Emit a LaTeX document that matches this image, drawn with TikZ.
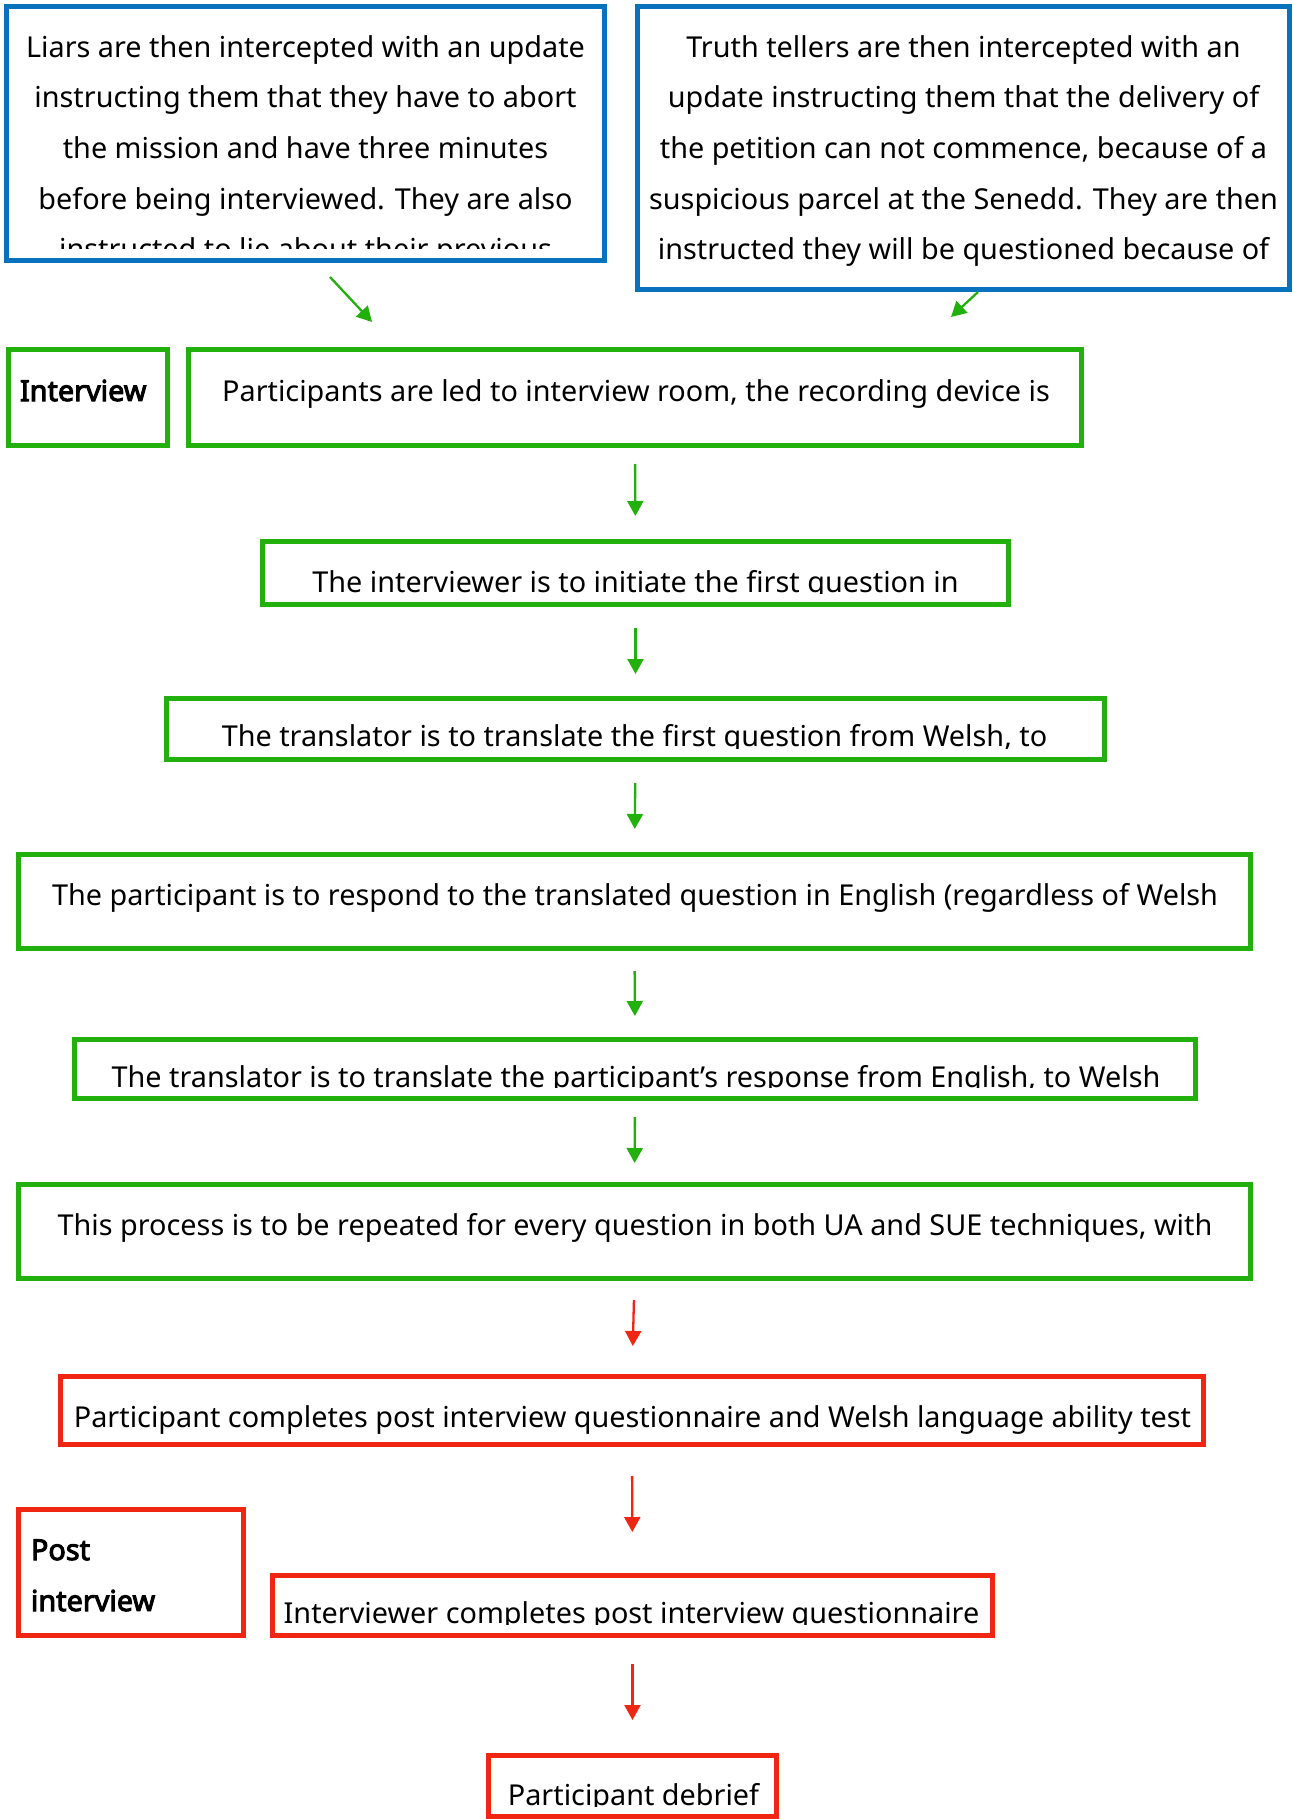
\documentclass[tikz,border=0pt]{standalone}
\usepackage{fontspec}
\setmainfont{Noto Sans}
\newfontfamily\headfont{Noto Sans}[FakeBold=3.5]
\usetikzlibrary{arrows.meta}
\definecolor{boxblue}{RGB}{8,114,190}
\definecolor{boxgreen}{RGB}{34,176,12}
\definecolor{boxred}{RGB}{238,38,18}
\tikzset{
  frame/.style={draw=#1, line width=2.5pt, inner sep=0pt, outer sep=0pt},
  txt/.style={inner sep=0pt, outer sep=0pt, align=center, anchor=base,
    font=\fontsize{14.4pt}{25.35pt}\selectfont},
  boldtxt/.style={inner sep=0pt, outer sep=0pt, align=left, anchor=base west,
    font=\headfont\fontsize{14.4pt}{25.5pt}\selectfont},
  flow/.style={draw=#1, line width=1.15pt, -{Triangle[length=7.5pt,width=8pt]}},
}
\begin{document}
\begin{tikzpicture}[x=0.5pt,y=-0.5pt]
\useasboundingbox (0,0) rectangle (1293,1819);
% ---------- boxes ----------
\node[frame=boxblue, minimum width=299pt, minimum height=127pt] (L) at (305.5,133.5) {};
\node[frame=boxblue, minimum width=326pt, minimum height=141.5pt] (R) at (963.5,148) {};
\node[frame=boxgreen, minimum width=79.5pt, minimum height=48pt] (iv) at (88,397.5) {};
\node[frame=boxgreen, minimum width=446.5pt, minimum height=48pt] (p1) at (635,397.5) {};
\node[frame=boxgreen, minimum width=373pt, minimum height=31.5pt] (p2) at (635.5,573) {};
\node[frame=boxgreen, minimum width=469pt, minimum height=30.5pt] (p3) at (635.5,729) {};
\node[frame=boxgreen, minimum width=616pt, minimum height=47pt] (p4) at (634.5,901.5) {};
\node[frame=boxgreen, minimum width=560.5pt, minimum height=29.5pt] (p5) at (635,1069) {};
\node[frame=boxgreen, minimum width=616pt, minimum height=47pt] (p6) at (634.5,1231.5) {};
\node[frame=boxred, minimum width=571.5pt, minimum height=34pt] (p7) at (632,1410.5) {};
\node[frame=boxred, minimum width=112.5pt, minimum height=63pt] (pi) at (131,1572.5) {};
\node[frame=boxred, minimum width=360pt, minimum height=30pt] (p8) at (632.5,1605.5) {};
\node[frame=boxred, minimum width=144pt, minimum height=30.5pt] (p9) at (632.5,1786) {};
% ---------- texts (clipped to the boxes) ----------
\begin{scope}
  \clip (9,9) rectangle (602,249);
  \node[txt] (tL) at (305.5,260) {Liars are then intercepted with an update\\instructing them that they have to abort\\the mission and have three minutes\\before being interviewed. They are also\\instructed to lie about their previous};
\end{scope}
\begin{scope}
  \clip (640,9) rectangle (1287,278);
  \node[txt] (tR) at (963.5,260) {Truth tellers are then intercepted with an\\update instructing them that the delivery of\\the petition can not commence, because of a\\suspicious parcel at the Senedd. They are then\\instructed they will be questioned because of};
\end{scope}
\begin{scope}
  \clip (11,352) rectangle (165,434);
  \node[boldtxt] (tiv) at (20,401) {Interview};
\end{scope}
\begin{scope}
  \clip (191,352) rectangle (1079,434);
  \node[txt] (t1) at (636,401) {Participants are led to interview room, the recording device is};
\end{scope}
\begin{scope}
  \clip (265,544) rectangle (1006,593);
  \node[txt] (t2) at (635.5,592) {The interviewer is to initiate the first question in};
\end{scope}
\begin{scope}
  \clip (169,701) rectangle (1102,748);
  \node[txt] (t3) at (634.5,746) {The translator is to translate the first question from Welsh, to};
\end{scope}
\begin{scope}
  \clip (21,857) rectangle (1248,937);
  \node[txt] (t4) at (635,905) {The participant is to respond to the translated question in English (regardless of Welsh};
\end{scope}
\begin{scope}
  \clip (77,1042) rectangle (1193,1087);
  \node[txt] (t5) at (636,1087) {The translator is to translate the participant’s response from English, to Welsh};
\end{scope}
\begin{scope}
  \clip (21,1187) rectangle (1248,1267);
  \node[txt] (t6) at (635,1235) {This process is to be repeated for every question in both UA and SUE techniques, with};
\end{scope}
\begin{scope}
  \clip (63,1379) rectangle (1201,1433);
  \node[txt] (t7) at (632.5,1427) {Participant completes post interview questionnaire and Welsh language ability test};
\end{scope}
\begin{scope}
  \clip (21,1512) rectangle (241,1624);
  \node[boldtxt] (tpi) at (31,1611) {Post\\interview};
\end{scope}
\begin{scope}
  \clip (275,1578) rectangle (990,1624);
  \node[txt] (t8) at (631.5,1623) {Interviewer completes post interview questionnaire};
\end{scope}
\begin{scope}
  \clip (491,1758) rectangle (774,1806);
  \node[txt] (t9) at (633.5,1805) {Participant debrief};
\end{scope}
% ---------- connectors ----------
\coordinate (la) at (330,277);
\coordinate (lb) at (372,322);
\coordinate (ra) at (978,292);
\coordinate (rb) at (951,317);
\draw[flow=boxgreen] (la) -- (lb);
\draw[flow=boxgreen] (ra) -- (rb);
\draw[flow=boxgreen, shorten <=9.25pt, shorten >=12.75pt] (p1.south) -- (p2.north);
\draw[flow=boxgreen, shorten <=11.75pt, shorten >=12.25pt] (p2.south) -- (p3.north);
\draw[flow=boxgreen, shorten <=11.75pt, shorten >=12.75pt] (p3.south) -- (p4.north);
\draw[flow=boxgreen, shorten <=11.25pt, shorten >=11.75pt] (p4.south) -- (p5.north);
\draw[flow=boxgreen, shorten <=9.25pt, shorten >=10.75pt] (p5.south) -- (p6.north);
\draw[flow=boxred, shorten <=10.75pt, shorten >=15.25pt] (p6.south) -- (p7.north);
\draw[flow=boxred, shorten <=15.75pt, shorten >=21.75pt] (p7.south) -- (p8.north);
\draw[flow=boxred, shorten <=14.25pt, shorten >=17.75pt] (p8.south) -- (p9.north);
\end{tikzpicture}
\end{document}
